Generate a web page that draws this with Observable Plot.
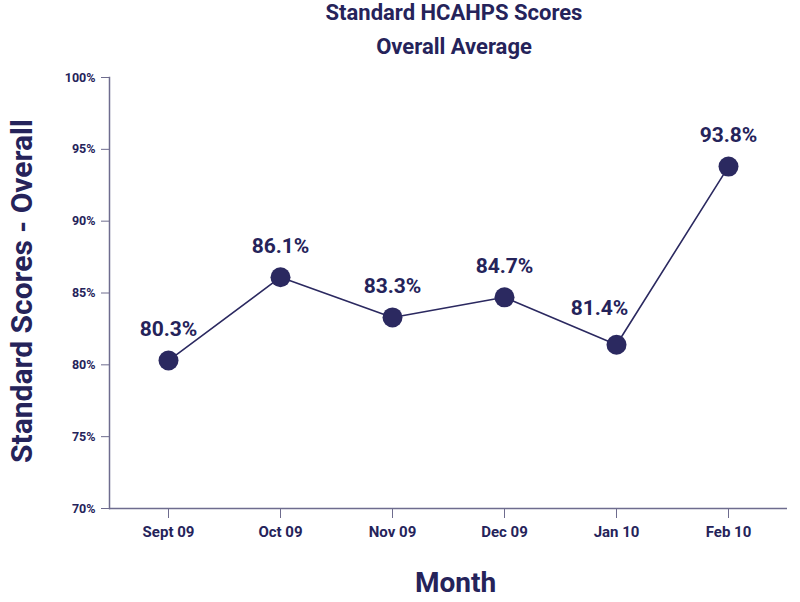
<!DOCTYPE html>
<html>
<head>
<meta charset="utf-8">
<script src="https://cdn.jsdelivr.net/npm/d3@7"></script>
<script src="https://cdn.jsdelivr.net/npm/@observablehq/plot@0.6"></script>
<style>
  html, body { margin: 0; padding: 0; background: #fff; }
  body { width: 800px; height: 602px; overflow: hidden; font-family: Roboto, sans-serif; }
  #title-wrap { height: 62px; position: relative; }
  #title { position: absolute; left: 0; top: -4px; width: 800px; box-sizing: border-box;
           padding-left: 108px; text-align: center;
           color: #25235a; font-weight: 700; font-size: 22px; line-height: 34px; }
  #chart svg { display: block; }
</style>
</head>
<body>
<div id="title-wrap"><div id="title"></div></div>
<div id="chart"></div>
<script>
const months = ["Sept 09", "Oct 09", "Nov 09", "Dec 09", "Jan 10", "Feb 10"];
const scores = [80.3, 86.1, 83.3, 84.7, 81.4, 93.8];
const yTicks = [70, 75, 80, 85, 90, 95, 100];
const titleLines = ["Standard HCAHPS Scores", "Overall Average"];
const xLabel = "Month";
const yLabel = "Standard Scores - Overall";

const titleEl = document.getElementById("title");
titleLines.forEach(t => { const d = document.createElement("div"); d.textContent = t; titleEl.appendChild(d); });

const data = months.map((m, i) => ({month: m, score: scores[i]}));
const ink = "#25235a";
const axisColor = "#6e6c8e";
const dotColor = "#2b2960";

const chart = Plot.plot({
  width: 800,
  height: 540,
  marginTop: 15,
  marginBottom: 94,
  marginLeft: 109,
  marginRight: 13,
  style: {fontFamily: "Roboto, sans-serif", background: "#fff"},
  x: {type: "point", domain: months, padding: 0.52},
  y: {domain: [70, 100]},
  marks: [
    Plot.frame({anchor: "left", stroke: axisColor, strokeWidth: 1.5}),
    Plot.ruleY([70], {stroke: axisColor, strokeWidth: 1.5}),
    Plot.axisY({ticks: yTicks, tickSize: 8, tickPadding: 6, tickFormat: d => d + "%",
      fontSize: 12.5, fontWeight: 700, stroke: axisColor, fill: ink, label: null}),
    Plot.axisX({tickSize: 10, tickPadding: 8, fontSize: 15, fontWeight: 700,
      stroke: axisColor, fill: ink, label: null}),
    Plot.text([yLabel], {frameAnchor: "left", textAnchor: "middle", dx: -87, dy: -2, rotate: -90,
      fontSize: 30, fontWeight: 700, fill: ink}),
    Plot.text([xLabel], {frameAnchor: "bottom", textAnchor: "middle", dx: 7, dy: 83, fontSize: 28,
      fontWeight: 700, fill: ink}),
    Plot.line(data, {x: "month", y: "score", stroke: dotColor, strokeWidth: 1.6}),
    Plot.dot(data, {x: "month", y: "score", r: 10, fill: dotColor, stroke: "none"}),
    Plot.text(data.filter(d => d.month !== "Jan 10"), {x: "month", y: "score",
      text: d => d.score.toFixed(1) + "%", dy: -31, fontSize: 21, fontWeight: 700, fill: ink}),
    Plot.text(data.filter(d => d.month === "Jan 10"), {x: "month", y: "score",
      text: d => d.score.toFixed(1) + "%", dx: -17, dy: -36, fontSize: 21, fontWeight: 700, fill: ink})
  ]
});
document.getElementById("chart").appendChild(chart);
</script>
</body>
</html>
